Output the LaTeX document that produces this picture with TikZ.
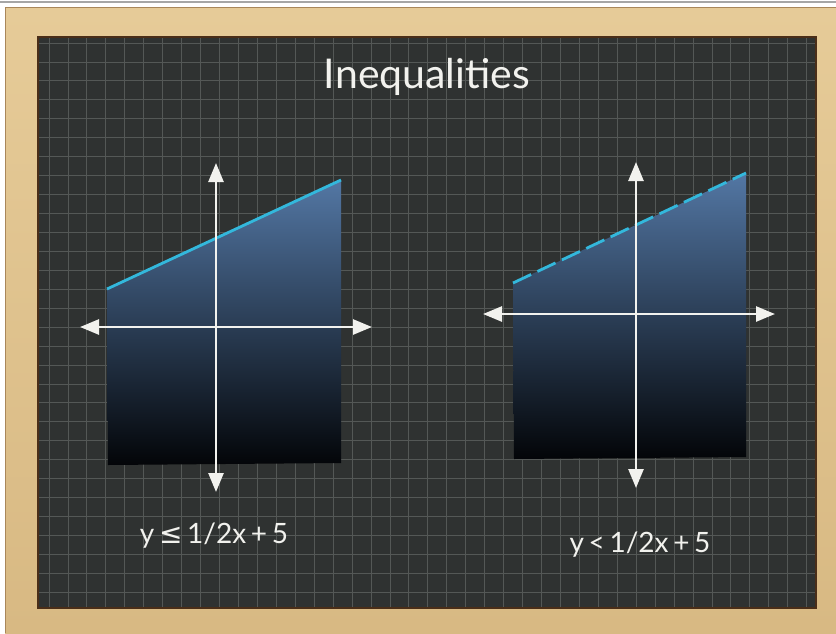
\documentclass[tikz,border=0pt]{standalone}
\usepackage{fontspec}
\setmainfont{Lato}
\newfontfamily\symbfont{DejaVu Sans}
\usetikzlibrary{arrows.meta, calc}
\definecolor{wood}{HTML}{D8B983}
\definecolor{woodlight}{HTML}{E6CB98}
\definecolor{woodedge}{HTML}{A9875A}
\definecolor{wooddark}{HTML}{4A2E18}
\definecolor{board}{HTML}{2F3231}
\definecolor{gridline}{HTML}{545856}
\definecolor{chalk}{HTML}{F2F2EE}
\definecolor{shadetop}{HTML}{5377A4}
\definecolor{shadebot}{HTML}{030508}
\definecolor{boundary}{HTML}{33B8DC}

\begin{document}
\begin{tikzpicture}[
  x=1pt, y=-1pt,
  axis/.style={chalk, line width=2.6pt,
               {Triangle[width=15pt, length=19pt]}-{Triangle[width=15pt, length=19pt]}},
  region/.style={top color=shadetop, bottom color=shadebot, draw=none},
  edge/.style={boundary, line width=2.8pt},
  chalktext/.style={chalk, inner sep=0pt, anchor=base},
]
  \useasboundingbox (0,0) rectangle (836,633);
  % paper, frame and board
  \fill[white] (0,0) rectangle (836,633);
  \fill[black!35] (0,1) rectangle (836,3);
  \shade[top color=woodlight, bottom color=wood] (5,7) rectangle (836,633);
  \draw[woodedge, line width=1.2pt] (5.6,633) -- (5.6,7.6) -- (836,7.6);
  \fill[board] (39,38) rectangle (815,607);
  \draw[wooddark, line width=2pt] (38,37) rectangle (816,608);

  % grid on the board
  \begin{scope}
    \clip (39,38) rectangle (815,607);
    \foreach \gx in {0,...,40}
      \draw[gridline, line width=0.9pt] ({49.06+18.94*\gx},38) -- ({49.06+18.94*\gx},607);
    \foreach \gy in {0,...,30}
      \draw[gridline, line width=0.9pt] (39,{43.06+18.94*\gy}) -- (815,{43.06+18.94*\gy});
  \end{scope}

  \node[chalktext, font=\fontsize{41}{46}\selectfont] (title) at (427,88) {Inequalities};

  % left graph: solid boundary
  \coordinate (la) at (107,289);
  \coordinate (lb) at (341,180);
  \coordinate (lc) at (341,463);
  \coordinate (ld) at (108,465);
  \shade[region] (la) -- (lb) -- (lc) -- (ld) -- cycle;
  \draw[edge] (la) -- (lb);
  \coordinate (lytop) at (216,163);
  \coordinate (lybot) at (216,492);
  \coordinate (lxl) at (80,327);
  \coordinate (lxr) at (372,327);
  \draw[axis] (lybot) -- (lytop);
  \draw[axis] (lxl) -- (lxr);
  \node[chalktext, font=\fontsize{28}{32}\selectfont] (lefteq) at (214,543)
    {y\,{\symbfont ≤}\,1/2x\,+\,5};

  % right graph: dashed boundary
  \coordinate (ra) at (513,283);
  \coordinate (rb) at (746,173);
  \coordinate (rc) at (746,457);
  \coordinate (rd) at (514,459);
  \shade[region] (ra) -- (rb) -- (rc) -- (rd) -- cycle;
  \draw[edge, dash pattern=on 20pt off 7pt] (ra) -- (rb);
  \coordinate (rytop) at (636,162);
  \coordinate (rybot) at (636,488);
  \coordinate (rxl) at (483,314);
  \coordinate (rxr) at (775,314);
  \draw[axis] (rybot) -- (rytop);
  \draw[axis] (rxl) -- (rxr);
  \node[chalktext, font=\fontsize{28}{32}\selectfont] (righteq) at (640,552)
    {y\,<\,1/2x\,+\,5};
\end{tikzpicture}
\end{document}
